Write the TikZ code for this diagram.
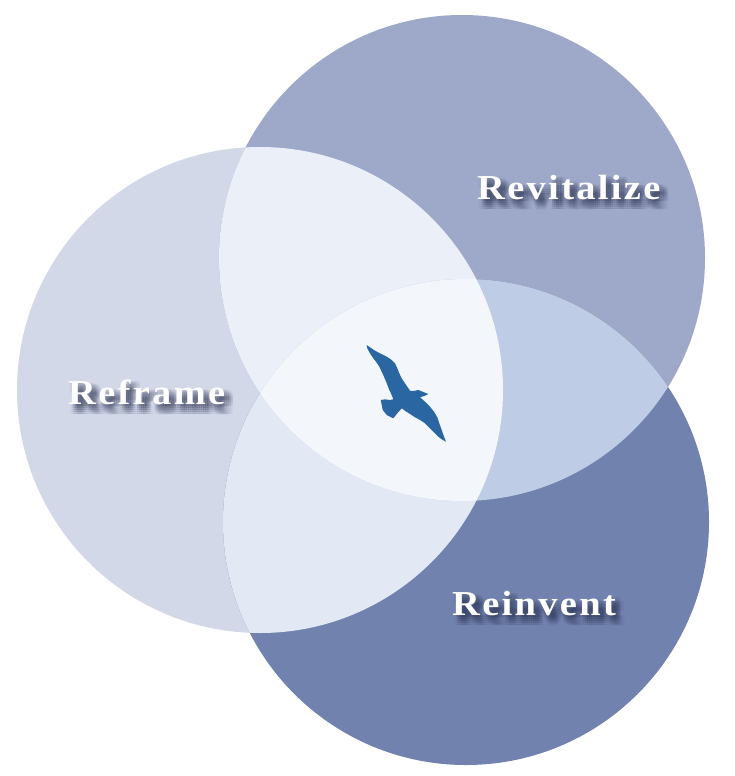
\documentclass[tikz,border=0pt]{standalone}
\usepackage{fontspec}
\usepackage{tikz}
\newfontfamily\lblfont[LetterSpace=6]{Liberation Serif}
\definecolor{frameblue}{HTML}{D3D8E8}
\definecolor{revitblue}{HTML}{9EA8C8}
\definecolor{reinvblue}{HTML}{7282AE}
\definecolor{framerevit}{HTML}{EBF0F8}
\definecolor{framereinv}{HTML}{E3E9F4}
\definecolor{revitreinv}{HTML}{BECCE5}
\definecolor{coreblue}{HTML}{F3F6FB}
\definecolor{birdblue}{HTML}{2A66A2}
\definecolor{shadowblue}{HTML}{283050}
\newcommand{\lbltext}[1]{\scalebox{1.1}[1]{#1}}
\newcommand{\blurcopies}[1]{%
  \foreach \dx in {1,3,...,9}{\foreach \dy in {2,4,...,10}{%
    \rlap{\hspace*{\dx pt}\raisebox{-\dy pt}{\lbltext{#1}}}}}%
  \phantom{\lbltext{#1}}}

\begin{document}
\begin{tikzpicture}[x=1pt,y=-1pt,
  lbl/.style={anchor=base west,inner sep=0pt,text=white,font=\lblfont\bfseries\fontsize{35}{40}\selectfont},
  lblshadow/.style={lbl,text=shadowblue,text opacity=0.06}]
\useasboundingbox[fill=white] (0,0) rectangle (734,776);
\coordinate (frame) at (260,390);
\coordinate (revit) at (462,258);
\coordinate (reinv) at (466,522);
\fill[frameblue] (frame) circle (243pt);
\fill[revitblue] (revit) circle (243pt);
\fill[reinvblue] (reinv) circle (243pt);
\begin{scope}
  \clip (frame) circle (243pt);
  \fill[framerevit] (revit) circle (243pt);
  \fill[framereinv] (reinv) circle (243pt);
\end{scope}
\begin{scope}
  \clip (revit) circle (243pt);
  \fill[revitreinv] (reinv) circle (243pt);
\end{scope}
\begin{scope}
  \clip (frame) circle (243pt);
  \clip (revit) circle (243pt);
  \fill[coreblue] (reinv) circle (243pt);
\end{scope}
\fill[birdblue,line join=round] (366.7,345.0) -- (370.0,347.3) -- (375.0,350.7) -- (380.0,353.3)
  -- (386.7,356.7) -- (391.7,360.0) -- (395.0,363.3) -- (397.3,368.3) -- (399.3,373.3)
  -- (401.7,378.3) -- (405.0,383.3) -- (407.3,386.7) -- (410.0,390.7) -- (413.3,391.0)
  -- (418.3,390.0) -- (423.3,392.0) -- (428.3,394.0) -- (425.0,395.7) -- (420.0,397.3)
  -- (425.0,401.7) -- (430.0,406.7) -- (434.0,411.7) -- (437.3,417.3) -- (439.3,423.3)
  -- (441.7,430.0) -- (444.0,436.7) -- (446.0,441.7) -- (441.7,439.3) -- (438.3,436.7)
  -- (433.3,431.7) -- (428.3,426.7) -- (425.0,423.3) -- (420.0,420.0) -- (415.0,417.3)
  -- (410.0,414.0) -- (405.0,410.7) -- (401.7,408.3) -- (397.3,413.3) -- (393.3,418.3)
  -- (386.7,415.0) -- (382.7,410.0) -- (380.7,400.0) -- (385.0,399.3) -- (390.0,400.0)
  -- (393.3,399.3) -- (391.7,395.0) -- (389.3,390.0) -- (386.7,383.3) -- (384.0,376.7)
  -- (381.7,371.7) -- (379.3,366.7) -- (376.7,362.7) -- (373.3,358.3) -- (370.0,353.3)
  -- (367.3,348.3) -- cycle;
\foreach \px/\py/\txt in {477/199.5/Revitalize, 68/404/Reframe, 452/615/Reinvent}{
  \node[lblshadow] at (\px,\py) {\blurcopies{\txt}};
  \node[lbl] (\txt) at (\px,\py) {\lbltext{\txt}};
}
\end{tikzpicture}
\end{document}
